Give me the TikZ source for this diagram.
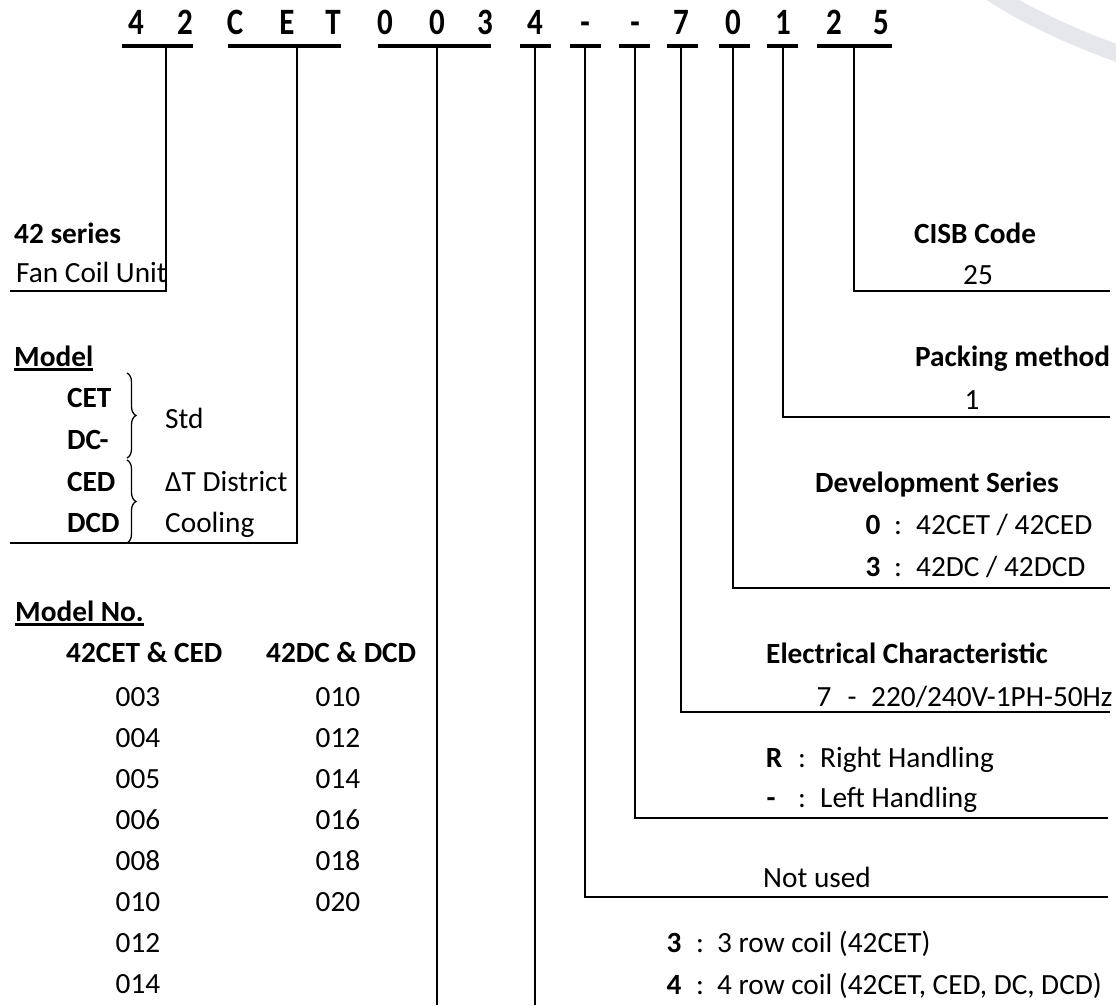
\documentclass[tikz,border=0pt]{standalone}
\usepackage{fontspec}
\setmainfont{Carlito}
\usepackage{tikz}
\usetikzlibrary{decorations.pathreplacing}
\definecolor{wmgray}{RGB}{229,231,235}

\begin{document}
\begin{tikzpicture}[x=1pt,y=-1pt,
    txt/.style={font=\fontsize{29.3}{35}\selectfont, inner sep=0pt, anchor=base west},
    hd/.style={txt, font=\fontsize{29.3}{35}\selectfont\bfseries},
    code/.style={font=\fontsize{31}{36}\selectfont\bfseries, inner sep=0pt, anchor=base},
    lead/.style={line width=1.7pt},
    bar/.style={line width=3.8pt},
    ul/.style={line width=2.2pt},
    brc/.style={decorate, decoration={brace, amplitude=9pt}, line width=1.3pt}]
\useasboundingbox (0,0) rectangle (1116,1005);
\draw[line width=17pt, wmgray] (990,-8) .. controls (1020,12) and (1065,35) .. (1125,56);
% code string
\foreach \ch/\x [count=\i] in {4/136,2/185,C/235,E/287,T/333,0/385,0/437,3/485,4/535,-/585,-/635,7/681,0/733,1/783,2/834,5/881}
    \node[code] (ch\i) at (\x,34) {\scalebox{1}[1.2]{\ch}};
\foreach \a/\b in {122/193,228/341,378/491,520/551,570/601,619/650,667/698,719/750,767/798,817/892}
    \draw[bar] (\a,46) -- (\b,46);
\foreach \n/\x in {42/166,cet/297,num/437,row/535,hnd/585,nu/635,el/681,dev/733,pk/783,cisb/854}
    \coordinate (t\n) at (\x,46);
\coordinate (e42) at (10,291);
\coordinate (ecet) at (10,543);
\coordinate (enum) at (437,1005);
\coordinate (erow) at (535,1005);
\coordinate (ehnd) at (1108,897);
\coordinate (enu) at (1108,818);
\coordinate (eel) at (1110,712);
\coordinate (edev) at (1110,588);
\coordinate (epk) at (1110,417);
\coordinate (ecisb) at (1110,291);
\draw[lead] (t42) |- (e42);
\draw[lead] (tcet) |- (ecet);
\draw[lead] (tnum) -- (enum);
\draw[lead] (trow) -- (erow);
\draw[lead] (thnd) |- (ehnd);
\draw[lead] (tnu) |- (enu);
\draw[lead] (tel) |- (eel);
\draw[lead] (tdev) |- (edev);
\draw[lead] (tpk) |- (epk);
\draw[lead] (tcisb) |- (ecisb);
% left side
\node[hd] (ser) at (14,243) {42 series};
\node[txt] (fcu) at (16,282) {Fan Coil Unit};
\node[hd] (mdl) at (14,366) {Model};
\draw[ul] ([yshift=-3.5pt]mdl.base west) -- ([yshift=-3.5pt]mdl.base east);
\node[hd] (cet) at (67,407) {CET};
\node[hd] (dcm) at (67,449) {DC-};
\node[hd] (ced) at (67,491) {CED};
\node[hd] (dcd) at (67,532) {DCD};
\coordinate (b1) at (127,373);
\coordinate (b2) at (127,458);
\coordinate (b3) at (127,460);
\coordinate (b4) at (127,543);
\draw[brc] (b1) -- (b2);
\draw[brc] (b3) -- (b4);
\node[txt] (std) at (165,428) {Std};
\node[txt] (dtd) at (165,491) {ΔT District};
\node[txt] (col) at (165,532) {Cooling};
\node[hd] (mno) at (15,621) {Model No.};
\draw[ul] ([yshift=-3.5pt]mno.base west) -- ([yshift=-3.5pt]mno.base east);
\node[hd] (h1) at (66,662) {42CET \& CED};
\node[hd] (h2) at (266,662) {42DC \& DCD};
\foreach \n [count=\i] in {003,004,005,006,008,010,012,014}
    \node[txt, anchor=base] (a\i) at (138,{706+41.1*(\i-1)}) {\n};
\foreach \n [count=\i] in {010,012,014,016,018,020}
    \node[txt, anchor=base] (b\i) at (338,{706+41.1*(\i-1)}) {\n};
% right side
\node[hd, anchor=base] (cisb) at (975,243) {CISB Code};
\node[txt, anchor=base] (v25) at (978,284) {25};
\node[hd] (pack) at (915,366) {Packing method};
\node[txt, anchor=base] (v1) at (972,409) {1};
\node[hd] (dev) at (815,492) {Development Series};
\node[hd, anchor=base] (d0) at (873,534) {0};
\node[txt, anchor=base] (d0c) at (898,534) {:};
\node[txt] (d0t) at (916,534) {42CET / 42CED};
\node[hd, anchor=base] (d3) at (873,576) {3};
\node[txt, anchor=base] (d3c) at (898,576) {:};
\node[txt] (d3t) at (916,576) {42DC / 42DCD};
\node[hd] (elec) at (766,663) {Electrical Characteristic};
\node[txt, anchor=base] (e7) at (824,706) {7};
\node[txt, anchor=base] (e7d) at (852,706) {-};
\node[txt] (e7t) at (871,706) {220/240V-1PH-50Hz};
\node[hd, anchor=base] (hr) at (774,767) {R};
\node[txt, anchor=base] (hrc) at (802,767) {:};
\node[txt] (hrt) at (820,767) {Right Handling};
\node[hd, anchor=base] (hl) at (771,807) {-};
\node[txt, anchor=base] (hlc) at (802,807) {:};
\node[txt] (hlt) at (820,807) {Left Handling};
\node[txt] (nus) at (763,887) {Not used};
\node[hd, anchor=base] (r3) at (674,952) {3};
\node[txt, anchor=base] (r3c) at (700,952) {:};
\node[txt] (r3t) at (717,952) {3 row coil (42CET)};
\node[hd, anchor=base] (r4) at (674,994) {4};
\node[txt, anchor=base] (r4c) at (700,994) {:};
\node[txt] (r4t) at (717,994) {4 row coil (42CET, CED, DC, DCD)};
\end{tikzpicture}
\end{document}
